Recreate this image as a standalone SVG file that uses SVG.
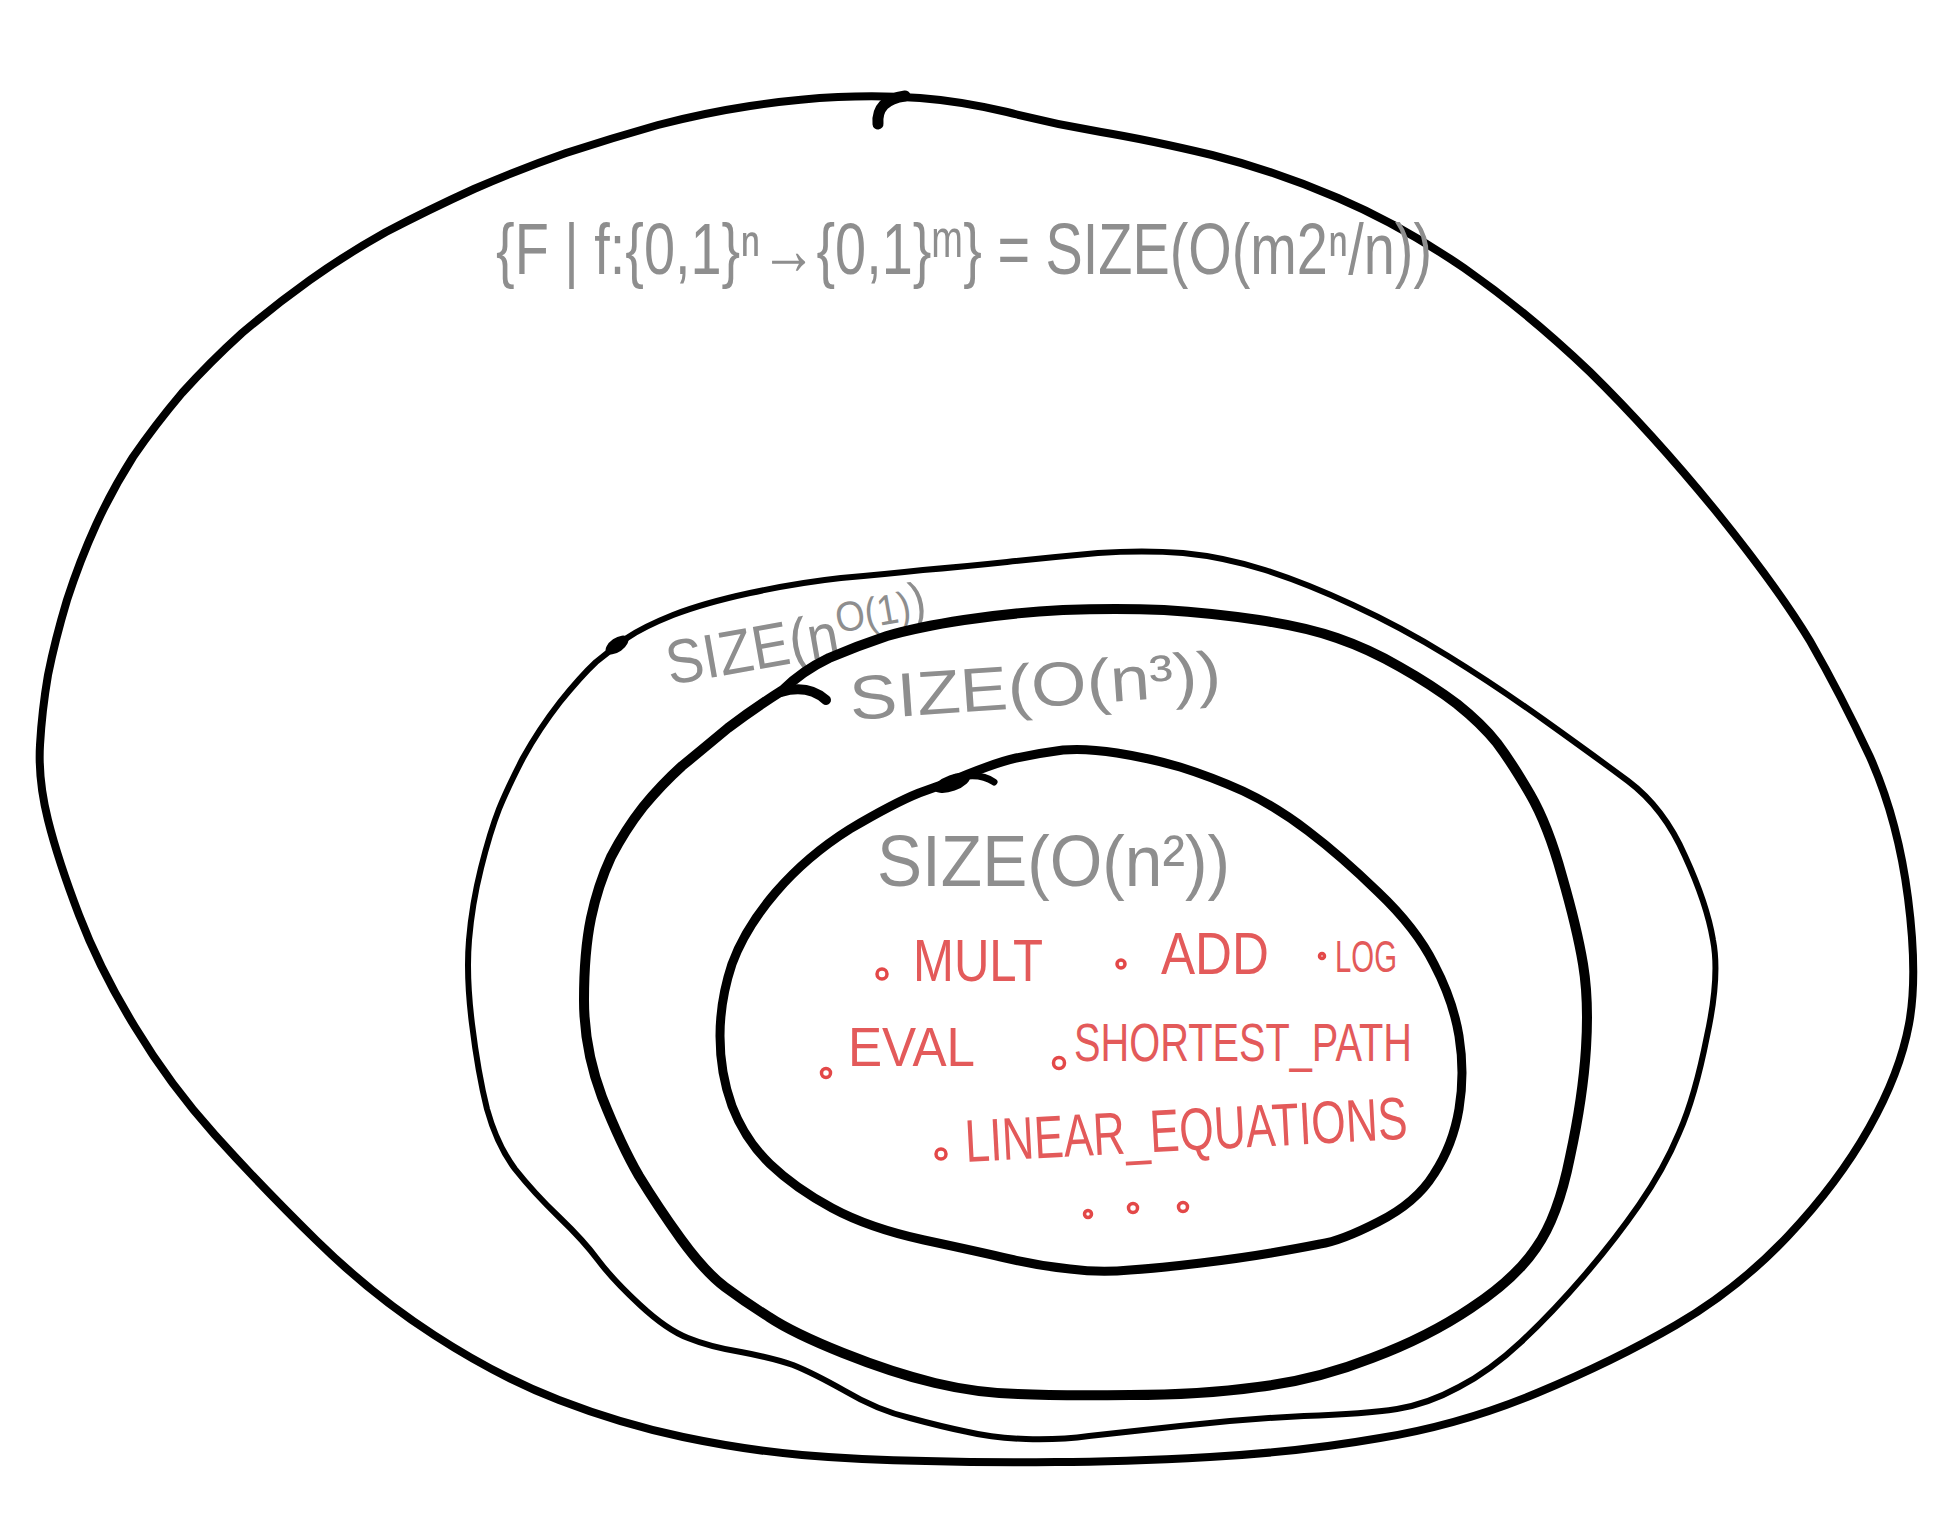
<svg xmlns="http://www.w3.org/2000/svg" width="1947" height="1514" viewBox="0 0 1947 1514">
<style>
.ln{fill:none;stroke:#000;stroke-linecap:round;stroke-linejoin:round}
.gray{fill:#8e8e8e;font-family:"Liberation Sans","DejaVu Sans",Arial,sans-serif}
.red{fill:#e35a5a;font-family:"Liberation Sans",Arial,sans-serif}
.dot{fill:none;stroke:#e34848;stroke-width:3.5}
</style>
<rect width="1947" height="1514" fill="#fff"/>
<g id="all-functions">
<path class="ln" stroke-width="8" d="M 838,97 Q 881,95 920,98 Q 960,101 1007,112 Q 1054,124 1101,132 Q 1149,140 1212,155 Q 1275,171 1338,198 Q 1401,225 1464,268 Q 1527,312 1590,372 Q 1652,433 1715,510 Q 1778,588 1810,641 Q 1841,695 1870,757 Q 1898,820 1908,898 Q 1918,976 1909,1024 Q 1900,1073 1869,1128 Q 1838,1183 1788,1236 Q 1738,1289 1676,1325 Q 1614,1361 1537,1393 Q 1460,1425 1380,1438 Q 1300,1452 1210,1457 Q 1120,1462 1056,1462 Q 993,1463 926,1461 Q 860,1460 802,1455 Q 745,1450 683,1437 Q 621,1424 559,1400 Q 497,1376 434,1335 Q 372,1295 316,1240 Q 260,1185 215,1135 Q 170,1085 135,1027 Q 100,970 79,915 Q 58,860 48,820 Q 38,780 40,745 Q 42,710 48,675 Q 55,640 67,600 Q 80,560 96,525 Q 112,490 133,457 Q 155,425 182,393 Q 210,362 242,333 Q 275,305 310,280 Q 345,255 386,232 Q 428,210 474,189 Q 520,169 566,153 Q 612,138 658,125 Q 704,113 750,106 Q 796,99 838,97 Z"/>
<path class="ln" stroke-width="11" d="M 878,124 Q 876,100 905,96"/>
<text class="gray" x="496" y="274" font-size="72" textLength="936" lengthAdjust="spacingAndGlyphs">{F | f:{0,1}ⁿ→{0,1}ᵐ} = SIZE(O(m2ⁿ/n))</text>
</g>
<g id="size-poly">
<path class="ln" stroke-width="6" d="M 627,638 Q 643,627 673,615 Q 704,603 750,593 Q 796,583 841,578 Q 887,574 923,570 Q 960,567 1007,562 Q 1054,557 1098,553 Q 1143,550 1183,553 Q 1224,557 1265,570 Q 1306,583 1353,605 Q 1401,627 1448,656 Q 1495,685 1544,720 Q 1593,755 1628,781 Q 1664,808 1685,856 Q 1707,904 1713,940 Q 1720,976 1707,1036 Q 1695,1097 1679,1133 Q 1664,1169 1639,1205 Q 1614,1241 1583,1277 Q 1552,1313 1521,1342 Q 1490,1371 1459,1387 Q 1428,1404 1397,1409 Q 1366,1414 1304,1416 Q 1242,1419 1180,1426 Q 1118,1433 1089,1436 Q 1060,1440 1026,1439 Q 993,1438 968,1432 Q 943,1427 910,1418 Q 877,1410 845,1391 Q 813,1373 793,1365 Q 773,1358 741,1352 Q 710,1347 688,1338 Q 667,1330 640,1305 Q 613,1280 598,1260 Q 584,1241 559,1217 Q 534,1193 515,1169 Q 497,1145 487,1109 Q 478,1073 472,1024 Q 466,976 469,940 Q 472,904 481,868 Q 490,832 499,809 Q 508,787 523,758 Q 539,729 560,702 Q 581,676 596,662 Q 612,649 627,638 Z"/>
<ellipse cx="617" cy="645" rx="13" ry="7" transform="rotate(-35 617 645)" fill="#000"/>
<text class="gray" x="670" y="685" font-size="62" textLength="266" lengthAdjust="spacingAndGlyphs" transform="rotate(-10 670 685)">SIZE(n<tspan font-size="42" dy="-22">O(1)</tspan><tspan font-size="52">)</tspan></text>
</g>
<g id="size-n3">
<path class="ln" stroke-width="10" d="M 783,690 Q 802,671 829,658 Q 857,646 887,636 Q 918,627 964,620 Q 1010,613 1063,610 Q 1117,608 1164,610 Q 1212,613 1259,620 Q 1306,627 1337,638 Q 1369,649 1400,667 Q 1432,685 1457,704 Q 1482,724 1497,743 Q 1512,763 1530,794 Q 1548,825 1562,876 Q 1577,928 1583,964 Q 1589,1000 1586,1048 Q 1583,1097 1570,1157 Q 1558,1217 1536,1248 Q 1515,1279 1471,1308 Q 1428,1337 1372,1358 Q 1316,1380 1258,1387 Q 1200,1395 1130,1395 Q 1060,1396 1018,1394 Q 977,1393 935,1383 Q 893,1373 843,1353 Q 793,1333 769,1317 Q 745,1302 725,1287 Q 705,1272 681,1239 Q 658,1207 639,1176 Q 621,1145 602,1097 Q 584,1049 584,1000 Q 584,952 591,918 Q 598,885 611,857 Q 625,830 643,807 Q 661,785 682,766 Q 704,748 728,728 Q 753,709 783,690"/>
<path class="ln" stroke-width="10" d="M 781,692 Q 808,684 826,700"/>
<text class="gray" x="851" y="720" font-size="62" textLength="372" lengthAdjust="spacingAndGlyphs" transform="rotate(-4 851 720)">SIZE(O(n³))</text>
</g>
<g id="size-n2">
<path class="ln" stroke-width="9" d="M 944,784 Q 993,763 1016,758 Q 1040,753 1063,750 Q 1086,748 1117,753 Q 1149,758 1180,767 Q 1212,777 1243,791 Q 1275,806 1308,831 Q 1341,856 1378,892 Q 1416,928 1434,964 Q 1453,1000 1459,1036 Q 1465,1073 1459,1109 Q 1453,1145 1434,1174 Q 1416,1203 1378,1222 Q 1341,1241 1320,1244 Q 1300,1248 1271,1253 Q 1242,1258 1201,1263 Q 1160,1268 1130,1270 Q 1100,1273 1070,1269 Q 1040,1266 1010,1259 Q 980,1252 924,1240 Q 869,1228 832,1208 Q 795,1188 770,1164 Q 745,1140 732,1106 Q 720,1073 720,1036 Q 720,1000 732,964 Q 745,928 776,892 Q 807,856 850,829 Q 894,803 919,793 L 944,784"/>
<ellipse cx="952" cy="783" rx="19" ry="8" transform="rotate(-20 952 783)" fill="#000"/>
<path class="ln" stroke-width="7" d="M 955,778 Q 980,772 994,782"/>
<text class="gray" x="877" y="886" font-size="72" textLength="353" lengthAdjust="spacingAndGlyphs">SIZE(O(n²))</text>
<circle class="dot" cx="882" cy="974" r="5"/>
<text class="red" x="913" y="981" font-size="60" textLength="130" lengthAdjust="spacingAndGlyphs">MULT</text>
<circle class="dot" cx="1121" cy="964" r="4"/>
<text class="red" x="1161" y="974" font-size="60" textLength="108" lengthAdjust="spacingAndGlyphs">ADD</text>
<circle class="dot" cx="1322" cy="956" r="2.5"/>
<text class="red" x="1335" y="972" font-size="44" textLength="62" lengthAdjust="spacingAndGlyphs">LOG</text>
<circle class="dot" cx="826" cy="1073" r="4.5"/>
<text class="red" x="848" y="1066" font-size="56" textLength="127" lengthAdjust="spacingAndGlyphs">EVAL</text>
<circle class="dot" cx="1059" cy="1063" r="5.5"/>
<text class="red" x="1074" y="1061" font-size="54" textLength="338" lengthAdjust="spacingAndGlyphs">SHORTEST_PATH</text>
<circle class="dot" cx="941" cy="1154" r="5"/>
<text class="red" x="966" y="1162" font-size="60" textLength="443" lengthAdjust="spacingAndGlyphs" transform="rotate(-3 966 1162)">LINEAR_EQUATIONS</text>
<circle class="dot" cx="1088" cy="1214" r="3.5"/>
<circle class="dot" cx="1133" cy="1208" r="4.5"/>
<circle class="dot" cx="1183" cy="1207" r="4.5"/>
</g>
<g id="connectors"/>
</svg>
